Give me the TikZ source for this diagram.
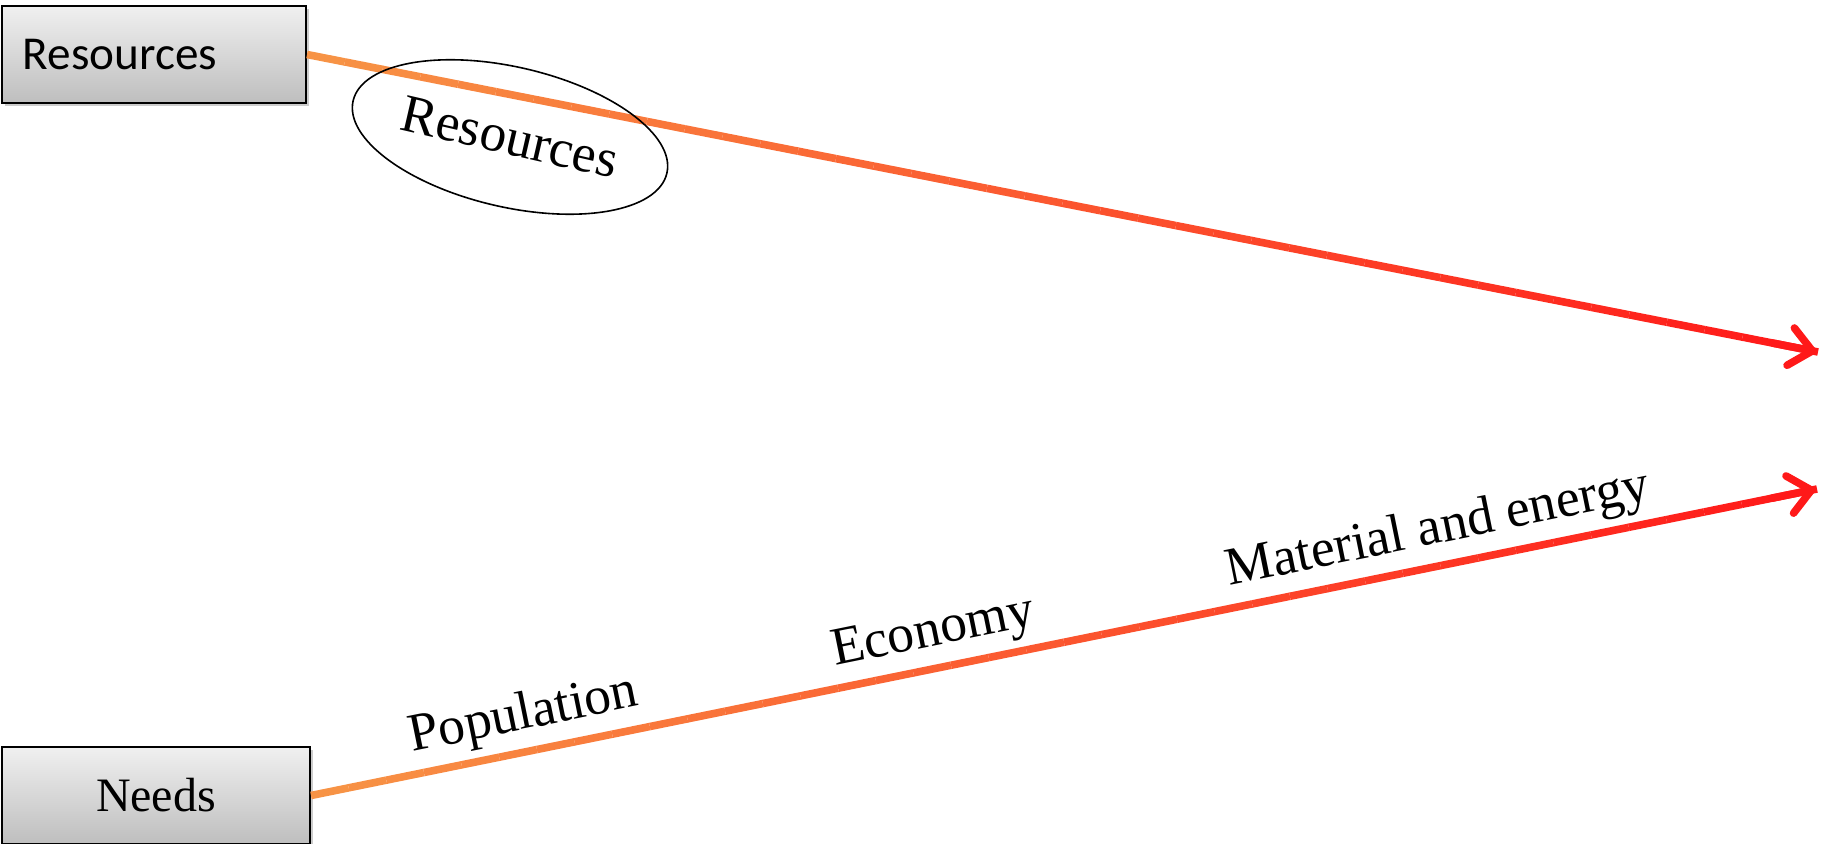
\documentclass[tikz,border=0pt]{standalone}
\usepackage{fontspec}
\setmainfont{Liberation Serif}
\newfontfamily\boxfont{Carlito}
\usetikzlibrary{positioning,arrows.meta,calc,shapes.geometric,shadows}

\definecolor{lineStart}{RGB}{247,150,70}
\definecolor{lineEnd}{RGB}{255,25,25}
\definecolor{boxTop}{RGB}{240,240,240}
\definecolor{boxBottom}{RGB}{190,190,190}

\tikzset{
    grayBox/.style={draw=black, line width=1pt, top color=boxTop, bottom color=boxBottom,
        minimum height=48.5pt, inner sep=0pt, anchor=north west,
        drop shadow={shadow xshift=1.5pt, shadow yshift=-1.5pt, opacity=0.4}},
    flow/.style={line width=3.8pt},
    tip/.style={-{Straight Barb[length=11pt, width=19pt, line cap=round]}},
    oval/.style={draw, ellipse, line width=0.8pt, minimum width=161pt, minimum height=70pt, inner sep=0pt},
    lbl/.style={font=\fontsize{26.8}{26.8}\selectfont, text depth=0pt, inner sep=0pt, sloped, above=11pt}
}

\begin{document}
\begin{tikzpicture}[x=0.5pt, y=-0.5pt]
    \useasboundingbox (0,0) rectangle (1824,844);

    % Boxes
    \node[grayBox, minimum width=152pt, text width=131pt, align=left, font=\boxfont\fontsize{23.6}{23.6}\selectfont]
        (res) at (1,5) {Resources};
    \node[grayBox, minimum width=154pt, font=\fontsize{24}{24}\selectfont]
        (needs) at (1,746) {Needs};

    % Arrow ends
    \coordinate (tipA) at (1818,352);
    \coordinate (tipB) at (1817,489);

    % Gradient arrows
    \foreach \i in {1,...,40}{
        \pgfmathsetmacro\a{(\i-1)/40}
        \pgfmathsetmacro\b{\i/40}
        \pgfmathsetmacro\p{\i*2.5}
        \draw[flow, color=lineEnd!\p!lineStart] ($(res.east)!\a!(tipA)$) -- ($(res.east)!\b!(tipA)$);
        \draw[flow, color=lineEnd!\p!lineStart] ($(needs.east)!\a!(tipB)$) -- ($(needs.east)!\b!(tipB)$);
    }
    \draw[flow, lineEnd, line cap=round, tip] ($(res.east)!0.97!(tipA)$) -- (tipA);
    \draw[flow, lineEnd, line cap=round, tip] ($(needs.east)!0.97!(tipB)$) -- (tipB);

    % Ellipse label
    \node[oval, rotate=-13, font=\fontsize{26.8}{26.8}\selectfont] (resov) at (510,137) {Resources};

    % Labels along the lower arrow
    \path (needs.east) -- (tipB)
        node[lbl, pos=0.146] (pop) {Population}
        node[lbl, pos=0.418] (eco) {Economy}
        node[lbl, pos=0.753] (mat) {Material and energy};
\end{tikzpicture}
\end{document}
